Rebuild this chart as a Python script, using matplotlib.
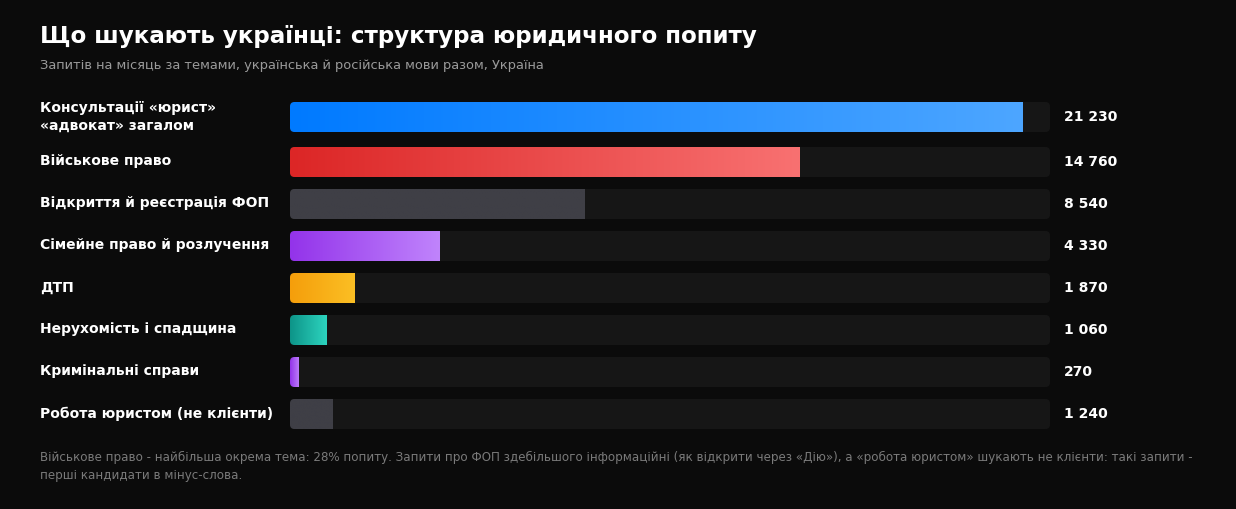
import matplotlib
matplotlib.use("Agg")
import matplotlib.pyplot as plt
import numpy as np
from matplotlib.patches import FancyBboxPatch
from matplotlib.colors import LinearSegmentedColormap
from matplotlib.transforms import Bbox, TransformedBbox, blended_transform_factory

plt.rcParams['font.family'] = ['DejaVu Sans']

# ---------------- data ----------------
categories = [
    "Консультації «юрист»\n«адвокат» загалом",
    "Військове право",
    "Відкриття й реєстрація ФОП",
    "Сімейне право й розлучення",
    "ДТП",
    "Нерухомість і спадщина",
    "Кримінальні справи",
    "Робота юристом (не клієнти)",
]
values = [21230, 14760, 8540, 4330, 1870, 1060, 270, 1240]
color_start = ["#007AFF", "#DC2626", "#3F3F46", "#9333EA", "#F59E0B", "#0D9488", "#9333EA", "#3F3F46"]
color_end = ["#4DA6FF", "#F87171", "#3F3F46", "#C084FC", "#FBBF24", "#2DD4BF", "#C084FC", "#3F3F46"]
x_max = 22000

title = "Що шукають українці: структура юридичного попиту"
subtitle = "Запитів на місяць за темами, українська й російська мови разом, Україна"
footnote = ("Військове право - найбільша окрема тема: 28% попиту. Запити про ФОП здебільшого інформаційні "
            "(як відкрити через «Дію»), а «робота юристом» шукають не клієнти: такі запити -\n"
            "перші кандидати в мінус-слова.")

# ---------------- layout ----------------
W, H = 1236, 509
BG = "#0B0B0B"
TRACK = "#161616"
fig = plt.figure(figsize=(W / 100, H / 100), dpi=100, facecolor=BG)

ax_left, ax_right = 290, 1050
ax_top, ax_bot = 95, 436
ax = fig.add_axes([ax_left / W, 1 - ax_bot / H, (ax_right - ax_left) / W, (ax_bot - ax_top) / H])
ax.set_facecolor(BG)
ax.set_xlim(0, x_max)
ax.set_ylim(ax_bot, ax_top)  # y units = pixels from top
ax.axis("off")

bar_h = 30
px_x = x_max / (ax_right - ax_left)  # data units per pixel in x
r_px = 4.5
r_x = r_px * px_x
aspect = 1.0 / px_x

label_tr = blended_transform_factory(fig.transFigure, ax.transData)

for i, (cat, v, c0, c1) in enumerate(zip(categories, values, color_start, color_end)):
    top = 102 + 42 * i + (3 if i > 0 else 0)
    # track
    track = FancyBboxPatch((0, top), x_max, bar_h,
                           boxstyle=f"round,pad=0,rounding_size={r_x}",
                           mutation_aspect=aspect, facecolor=TRACK, edgecolor="none", zorder=1)
    ax.add_patch(track)
    # bar clip: rounded box extended to the right, clipped by bar rect
    clip = FancyBboxPatch((0, top), v + 3 * r_x, bar_h,
                          boxstyle=f"round,pad=0,rounding_size={r_x}",
                          mutation_aspect=aspect, facecolor="none", edgecolor="none",
                          transform=ax.transData)
    ax.add_patch(clip)
    cmap = LinearSegmentedColormap.from_list(f"g{i}", [c0, c1])
    grad = np.linspace(0, 1, 256).reshape(1, -1)
    im = ax.imshow(grad, extent=[0, v, top + bar_h, top], aspect="auto", cmap=cmap,
                   interpolation="bilinear", zorder=2)
    im.set_clip_path(clip)
    im.set_clip_box(TransformedBbox(Bbox([[0, top], [v, top + bar_h]]), ax.transData))
    yc = top + bar_h / 2
    # category label
    ax.text(40 / W, yc - 0.5, cat, transform=label_tr, ha="left", va="center",
            color="white", fontsize=10, fontweight="bold", linespacing=1.35)
    # value
    ax.text(1064 / W, yc, f"{v:,}".replace(",", " "), transform=label_tr, ha="left", va="center",
            color="white", fontsize=10, fontweight="bold")

ax.set_xlim(0, x_max)
ax.set_ylim(ax_bot, ax_top)

fig.text(40 / W, 1 - 36 / H, title, ha="left", va="center", color="white",
         fontsize=16.6, fontweight="bold")
fig.text(40 / W, 1 - 65 / H, subtitle, ha="left", va="center", color="#9A9A9A", fontsize=9.4)
fig.text(40 / W, 1 - 466.5 / H, footnote, ha="left", va="center", color="#7A7A7A",
         fontsize=8.58, linespacing=1.58)

fig.savefig("out.png", dpi=100, facecolor=BG)
